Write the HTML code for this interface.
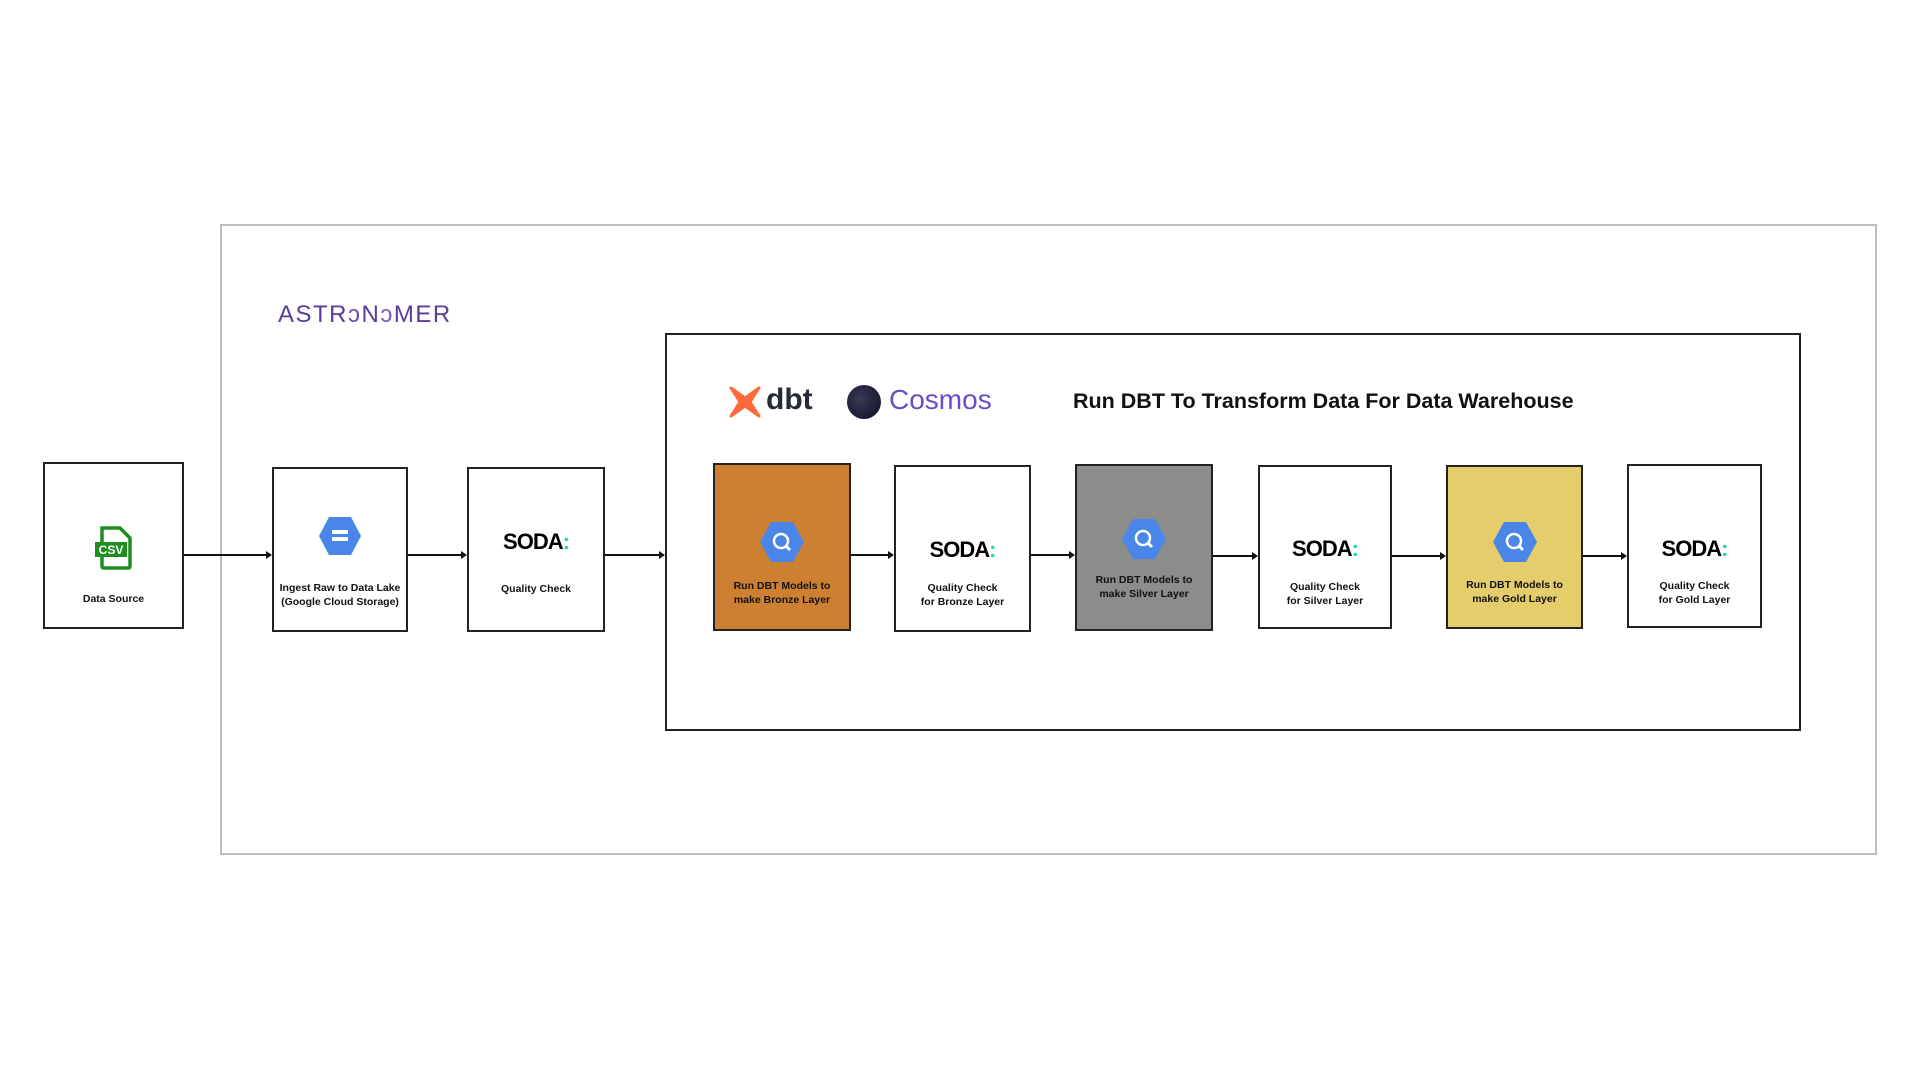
<!DOCTYPE html>
<html><head><meta charset="utf-8"><style>
body{margin:0;width:1920px;height:1080px;background:#fff;position:relative;overflow:hidden;font-family:"Liberation Sans",sans-serif}
.a{position:absolute}
.box{position:absolute;border:2px solid #222;box-sizing:border-box;background:#fff}
.ic{position:absolute;left:0;right:0;display:flex;justify-content:center}
.lb{position:absolute;left:0;right:0;text-align:center;font-weight:bold;font-size:10.5px;line-height:14px;color:#111}
.soda{font-weight:900;font-size:22px;letter-spacing:-1px;color:#000;font-family:"Liberation Sans",sans-serif}
.ln{position:absolute;height:2px;background:#111}
.ah{position:absolute;width:0;height:0;border-top:4px solid transparent;border-bottom:4px solid transparent;border-left:6px solid #111}
</style></head><body>
<div class="a" style="left:220px;top:224px;width:1657px;height:631px;border:2px solid #bdbdbd;box-sizing:border-box"></div>
<div class="a" style="left:278px;top:301px;font-size:24px;letter-spacing:1.5px;color:#5a3d9a">ASTR<span style="color:#6e4cb0">ↄ</span>N<span style="color:#7a5cc0">ↄ</span>MER</div>
<div class="a" style="left:665px;top:333px;width:1136px;height:398px;border:2px solid #222;box-sizing:border-box"></div>
<svg class="a" style="left:728px;top:385px" width="34" height="34" viewBox="0 0 34 34"><path d="M3 3 L17 13 L31 3 L22 17 L31 31 L17 21 L3 31 L12 17 Z" fill="#fe6a3c" stroke="#fe6a3c" stroke-width="3" stroke-linejoin="round"/></svg>
<div class="a" style="left:766px;top:383px;font-size:30px;font-weight:bold;color:#262a38">dbt</div>
<div class="a" style="left:847px;top:385px;width:34px;height:34px;border-radius:50%;background:radial-gradient(circle at 40% 40%,#3a3a5a,#0c0c1c)"></div>
<div class="a" style="left:889px;top:384px;font-size:28px;color:#6a4cc8">Cosmos</div>
<div class="a" style="left:1073px;top:389px;font-size:21.5px;font-weight:bold;color:#111">Run DBT To Transform Data For Data Warehouse</div>

<div class="ln" style="left:184px;top:554px;width:86px"></div><div class="ah" style="left:266px;top:551px"></div>
<div class="ln" style="left:408px;top:554px;width:57px"></div><div class="ah" style="left:461px;top:551px"></div>
<div class="ln" style="left:605px;top:554px;width:58px"></div><div class="ah" style="left:659px;top:551px"></div>
<div class="ln" style="left:851px;top:554px;width:41px"></div><div class="ah" style="left:888px;top:551px"></div>
<div class="ln" style="left:1031px;top:554px;width:42px"></div><div class="ah" style="left:1069px;top:551px"></div>
<div class="ln" style="left:1213px;top:555px;width:43px"></div><div class="ah" style="left:1252px;top:552px"></div>
<div class="ln" style="left:1392px;top:555px;width:52px"></div><div class="ah" style="left:1440px;top:552px"></div>
<div class="ln" style="left:1583px;top:555px;width:42px"></div><div class="ah" style="left:1621px;top:552px"></div>

<div class="box" style="left:43px;top:462px;width:141px;height:167px">
 <div class="ic" style="top:62px"><svg width="40" height="44" viewBox="0 0 40 44"><path d="M8 2 H26 L36 12 V40 Q36 42 34 42 H10 Q8 42 8 40 Z" fill="none" stroke="#1e8f1e" stroke-width="3.5"/><rect x="1" y="16" width="32" height="15" fill="#1e8f1e"/><text x="17" y="28" font-size="12" font-weight="bold" fill="#fff" text-anchor="middle" font-family="Liberation Sans">CSV</text></svg></div>
 <div class="lb" style="top:128px">Data Source</div>
</div>
<div class="box" style="left:272px;top:467px;width:136px;height:165px">
 <div class="ic" style="top:47px"><svg width="44" height="40" viewBox="0 0 44 40"><polygon points="11,1 33,1 43,20 33,39 11,39 1,20" fill="#4a86e8"/><rect x="14" y="14" width="16" height="4" fill="#fff"/><rect x="14" y="21" width="16" height="4" fill="#fff"/></svg></div>
 <div class="lb" style="top:112px">Ingest Raw to Data Lake<br>(Google Cloud Storage)</div>
</div>
<div class="box" style="left:467px;top:467px;width:138px;height:165px">
 <div class="ic" style="top:60px"><span class="soda">SODA<span style="color:#1ed99a">:</span></span></div>
 <div class="lb" style="top:113px">Quality Check</div>
</div>
<div class="box" style="left:713px;top:463px;width:138px;height:168px;background:#cd7f32">
 <div class="ic" style="top:56px"><svg width="46" height="42" viewBox="0 0 46 42"><polygon points="12,1 34,1 45,21 34,41 12,41 1,21" fill="#4a86e8"/><circle cx="22" cy="20" r="7" fill="none" stroke="#fff" stroke-width="2.5"/><line x1="27" y1="25" x2="31" y2="29" stroke="#fff" stroke-width="3"/></svg></div>
 <div class="lb" style="top:114px">Run DBT Models to<br>make Bronze Layer</div>
</div>
<div class="box" style="left:894px;top:465px;width:137px;height:167px">
 <div class="ic" style="top:70px"><span class="soda">SODA<span style="color:#1ed99a">:</span></span></div>
 <div class="lb" style="top:114px">Quality Check<br>for Bronze Layer</div>
</div>
<div class="box" style="left:1075px;top:464px;width:138px;height:167px;background:#8c8c8a">
 <div class="ic" style="top:52px"><svg width="46" height="42" viewBox="0 0 46 42"><polygon points="12,1 34,1 45,21 34,41 12,41 1,21" fill="#4a86e8"/><circle cx="22" cy="20" r="7" fill="none" stroke="#fff" stroke-width="2.5"/><line x1="27" y1="25" x2="31" y2="29" stroke="#fff" stroke-width="3"/></svg></div>
 <div class="lb" style="top:107px">Run DBT Models to<br>make Silver Layer</div>
</div>
<div class="box" style="left:1258px;top:465px;width:134px;height:164px">
 <div class="ic" style="top:69px"><span class="soda">SODA<span style="color:#1ed99a">:</span></span></div>
 <div class="lb" style="top:113px">Quality Check<br>for Silver Layer</div>
</div>
<div class="box" style="left:1446px;top:465px;width:137px;height:164px;background:#e5cd6c">
 <div class="ic" style="top:54px"><svg width="46" height="42" viewBox="0 0 46 42"><polygon points="12,1 34,1 45,21 34,41 12,41 1,21" fill="#4a86e8"/><circle cx="22" cy="20" r="7" fill="none" stroke="#fff" stroke-width="2.5"/><line x1="27" y1="25" x2="31" y2="29" stroke="#fff" stroke-width="3"/></svg></div>
 <div class="lb" style="top:111px">Run DBT Models to<br>make Gold Layer</div>
</div>
<div class="box" style="left:1627px;top:464px;width:135px;height:164px">
 <div class="ic" style="top:70px"><span class="soda">SODA<span style="color:#1ed99a">:</span></span></div>
 <div class="lb" style="top:113px">Quality Check<br>for Gold Layer</div>
</div>
</body></html>
